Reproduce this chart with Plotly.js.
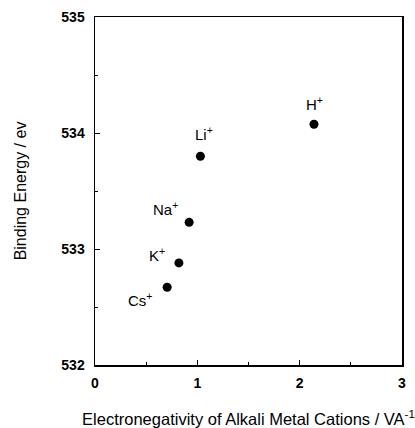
<!DOCTYPE html>
<html>
<head>
<meta charset="utf-8">
<script src="https://cdn.plot.ly/plotly-3.0.1.min.js"></script>
<style>html,body{margin:0;padding:0;background:#fff;}#chart{width:415px;height:428px;}</style>
</head>
<body>
<div id="chart"></div>
<script>
const cations = ["H", "Li", "Na", "K", "Cs"];
const electronegativity = [2.14, 1.03, 0.92, 0.82, 0.705];
const bindingEnergy = [534.075, 533.80, 533.23, 532.88, 532.67];
const xTicks = [0, 1, 2, 3];
const yTicks = [532, 533, 534, 535];

const labelShift = {
  H: [1, 21], Li: [4, 23], Na: [-24, 14], K: [-22, 8], Cs: [-27, -12]
};
const FONT = "Liberation Sans, Arial, Helvetica, sans-serif";

const trace = {
  x: electronegativity,
  y: bindingEnergy,
  mode: "markers",
  type: "scatter",
  marker: {color: "#000", size: 9},
  hoverinfo: "skip"
};

const annotations = cations.map((c, i) => ({
  x: electronegativity[i], y: bindingEnergy[i],
  xref: "x", yref: "y",
  text: c + "<sup>+</sup>",
  showarrow: false,
  xshift: labelShift[c][0], yshift: labelShift[c][1],
  font: {family: FONT, size: 15, color: "#000"}
}));

const axisCommon = {
  showgrid: false, zeroline: false,
  showline: true, linecolor: "#000", linewidth: 1.5, mirror: true,
  ticks: "inside", ticklen: 5, tickcolor: "#000", tickwidth: 1,
  tickfont: {family: FONT, size: 14, color: "#000", weight: "bold"},
  minor: {ticks: "inside", ticklen: 3, tickcolor: "#000", dtick: 0.5}
};

const layout = {
  width: 415, height: 428,
  margin: {l: 95, r: 13, t: 17, b: 63},
  paper_bgcolor: "#fff", plot_bgcolor: "#fff",
  showlegend: false,
  xaxis: Object.assign({}, axisCommon, {
    range: [0, 3], tickvals: xTicks, ticktext: xTicks.map(String),
    ticklabelstandoff: 5,
    title: {text: "Electronegativity of Alkali Metal Cations / VA<sup>-1</sup>", standoff: 26,
      font: {family: FONT, size: 16.5, color: "#000"}}
  }),
  yaxis: Object.assign({}, axisCommon, {
    range: [532, 535], tickvals: yTicks, ticktext: yTicks.map(String),
    ticklabelstandoff: 6,
    title: {text: "Binding Energy / ev", standoff: 30,
      font: {family: FONT, size: 16, color: "#000"}}
  }),
  annotations: annotations
};

Plotly.newPlot("chart", [trace], layout, {staticPlot: true, displayModeBar: false});
</script>
</body>
</html>
